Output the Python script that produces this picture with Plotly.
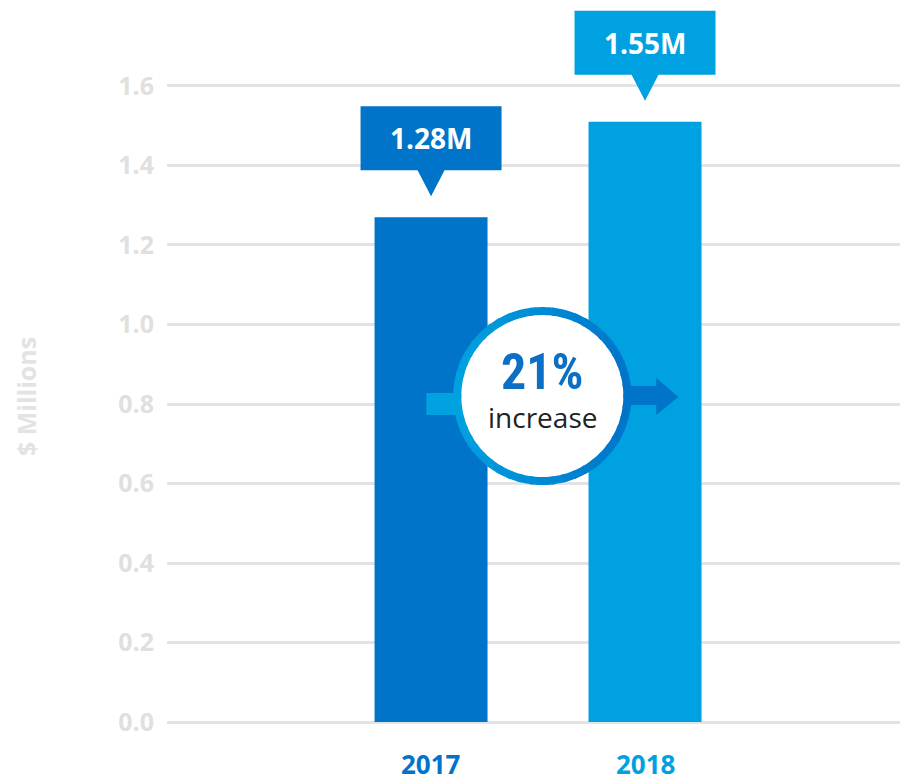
import plotly.graph_objects as go
import numpy as np

# ---- data ----
years = ["2017", "2018"]
values = [1.27, 1.51]
callout_labels = ["1.28M", "1.55M"]
bar_colors = ["#0074c9", "#00a1e0"]
y_ticks = [0.0, 0.2, 0.4, 0.6, 0.8, 1.0, 1.2, 1.4, 1.6]
increase_pct = "21%"
increase_word = "increase"
y_title = "$ Millions"

DARK = "#0074c9"
LIGHT = "#00a1e0"
GRID = "#e3e3e3"

fig = go.Figure()
fig.add_trace(go.Bar(
    x=years, y=values, marker=dict(color=bar_colors, line=dict(width=0)),
    width=0.528, hoverinfo="skip", showlegend=False,
))

shapes = []
annotations = []

# callouts above bars (pixel-sized, anchored at bar top)
for i, (v, lab, col) in enumerate(zip(values, callout_labels, bar_colors)):
    path = "M -70.5,47 L -70.5,111 L 70.5,111 L 70.5,47 L 13.5,47 L 0,21 L -13.5,47 Z"
    shapes.append(dict(type="path", xref="x", yref="y", xsizemode="pixel", ysizemode="pixel",
                       xanchor=i, yanchor=v, path=path, fillcolor=col,
                       line=dict(width=0), layer="above"))
    annotations.append(dict(x=i, y=v, xref="x", yref="y", yshift=79, text="<b>%s</b>" % lab,
                            showarrow=False, font=dict(family="Open Sans", size=28, color="white"),
                            xanchor="center", yanchor="middle"))
    annotations.append(dict(x=i, y=0, xref="x", yref="y", yshift=-42, text="<b>%s</b>" % years[i],
                            showarrow=False, font=dict(family="Open Sans", size=26, color=col),
                            xanchor="center", yanchor="middle"))

# increase badge
cx, cy = 0.52, 0.82
def pshape(path, color):
    return dict(type="path", xref="x", yref="y", xsizemode="pixel", ysizemode="pixel",
                xanchor=cx, yanchor=cy, path=path, fillcolor=color, line=dict(width=0), layer="above")

shapes.append(pshape("M -116,3 L -80,3 L -80,-19 L -116,-19 Z", LIGHT))
shapes.append(pshape("M 80,10 L 114,10 L 114,18 L 136,-1 L 114,-19 L 114,-9 L 80,-9 Z", DARK))

# white disc
t = np.linspace(0, 2 * np.pi, 90)
disc = "M " + " L ".join("%.2f,%.2f" % (85 * np.cos(a), 85 * np.sin(a)) for a in t) + " Z"
shapes.append(pshape(disc, "white"))

# gradient ring
def hex2rgb(h):
    return np.array([int(h[k:k + 2], 16) for k in (1, 3, 5)])
c1, c2 = hex2rgb(LIGHT), hex2rgb(DARK)
nseg = 48
for s in range(nseg):
    a0 = 2 * np.pi * s / nseg - 0.02
    a1 = 2 * np.pi * (s + 1) / nseg + 0.02
    am = (a0 + a1) / 2
    f = (np.cos(am) + 1) / 2
    c = c1 + (c2 - c1) * f
    col = "rgb(%d,%d,%d)" % tuple(c.round().astype(int))
    aa = np.linspace(a0, a1, 6)
    outer = ["%.2f,%.2f" % (89 * np.cos(a), 89 * np.sin(a)) for a in aa]
    inner = ["%.2f,%.2f" % (81 * np.cos(a), 81 * np.sin(a)) for a in aa[::-1]]
    path = "M " + " L ".join(outer + inner) + " Z"
    shapes.append(pshape(path, col))

annotations.append(dict(x=cx, y=cy, xref="x", yref="y", yshift=24, text="<b>%s</b>" % increase_pct,
                        showarrow=False,
                        font=dict(family="Liberation Sans Narrow, Roboto Condensed, Roboto", size=50, color="#0b6fc4"),
                        xanchor="center", yanchor="middle"))
annotations.append(dict(x=cx, y=cy, xref="x", yref="y", yshift=-21, text=increase_word,
                        showarrow=False, font=dict(family="Open Sans", size=28, color="#222222"),
                        xanchor="center", yanchor="middle"))

annotations.append(dict(x=-0.1903, y=0.82, xref="paper", yref="y", text="<b>%s</b>" % y_title,
                        textangle=-90, showarrow=False,
                        font=dict(family="Open Sans", size=25, color=GRID),
                        xanchor="center", yanchor="middle"))

# page body has an 8px margin: figure is offset by 8px, so it is sized 900x773
fig.update_layout(
    width=900, height=773,
    margin=dict(l=159, r=0, t=0, b=55),
    paper_bgcolor="white", plot_bgcolor="white",
    shapes=shapes, annotations=annotations,
    xaxis=dict(type="category", range=[-1.234, 2.229], showticklabels=False, showgrid=False,
               zeroline=False, showline=False, fixedrange=True),
    yaxis=dict(range=[-0.01006, 1.7962], tickvals=y_ticks, tickformat=".1f",
               showgrid=True, gridcolor=GRID, gridwidth=3, zeroline=False, showline=False,
               ticks="", ticklabelstandoff=12,
               tickfont=dict(family="Open Sans", size=25, color="#e0e0e0", weight="bold"),
               fixedrange=True),
    font=dict(family="Open Sans"),
)

fig.write_html("out.html")
